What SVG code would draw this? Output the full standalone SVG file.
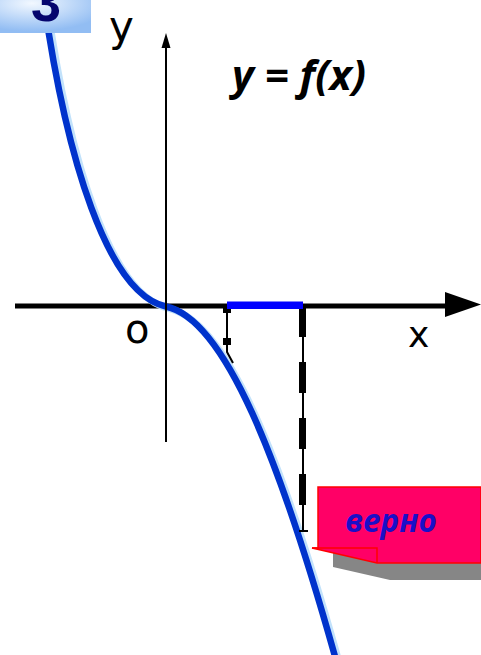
<svg xmlns="http://www.w3.org/2000/svg" width="481" height="655" viewBox="0 0 481 655">
<defs>
<radialGradient id="boxg" cx="0.35" cy="0.1" r="0.85">
<stop offset="0" stop-color="#f2f8ff"/>
<stop offset="1" stop-color="#92bdf3"/>
</radialGradient>
<path id="curve" d="M43,-5 C66,160 108,294 166,306.5 C225,319 280,460 336,660"/>
</defs>
<style>
.lbl{font-family:"DejaVu Sans","Liberation Sans",sans-serif;fill:#000}
.thin{stroke:#000;stroke-width:2;fill:none}
.dash{stroke:#000;stroke-width:7;fill:none}
</style>
<g id="x-axis">
<line x1="15" y1="306" x2="447" y2="306" stroke="#000" stroke-width="5"/>
<polygon points="445,292 481,304.5 445,317" fill="#000"/>
</g>
<g id="graph">
<use href="#curve" fill="none" stroke="#c2e2fb" stroke-width="7" transform="translate(3,2)"/>
<use href="#curve" fill="none" stroke="#0033cc" stroke-width="6.5"/>
</g>
<g id="y-axis">
<line x1="166" y1="46" x2="166" y2="442" stroke="#000" stroke-width="2"/>
<polygon points="166,33 161.5,48 170.5,48" fill="#000"/>
</g>
<g id="connectors">
<polyline class="thin" points="227,305 227,352 233,363"/>
<rect x="223" y="306" width="8" height="7" fill="#000"/>
<rect x="223" y="338" width="8" height="7" fill="#000"/>
<line class="thin" x1="303" y1="305" x2="303" y2="531"/>
<line class="dash" x1="302.5" y1="306" x2="302.5" y2="505" stroke-dasharray="31,25"/>
<line class="thin" x1="299" y1="531" x2="308" y2="531"/>
</g>
<g id="interval">
<rect x="227" y="301.5" width="76" height="7.5" fill="#0000ff"/>
</g>
<g id="labels">
<text class="lbl" x="109" y="41" font-size="42">y</text>
<text class="lbl" x="125" y="343" font-size="40">o</text>
<text class="lbl" x="408" y="347" font-size="36">x</text>
<text x="232" y="90" font-family="'Open Sans','DejaVu Sans',sans-serif" font-weight="bold" font-style="italic" font-size="42" textLength="134" lengthAdjust="spacingAndGlyphs">y = f(x)</text>
</g>
<g id="number-box">
<rect x="0" y="0" width="91" height="33" fill="url(#boxg)"/>
<text x="31" y="21" font-family="'Liberation Sans',Arial,sans-serif" font-weight="bold" font-size="54" fill="#05056e">3</text>
</g>
<g id="callout">
<polygon points="333,553 481,553 481,580 390,580 333,567" fill="#868686"/>
<polygon points="318,487 481,487 481,563 377,563 312,548 318,548" fill="#ff0066" stroke="#ff0000" stroke-width="1.5"/>
<polyline points="312,548 377,548 377,563" fill="none" stroke="#ff0000" stroke-width="1.5"/>
<text x="345" y="532" font-family="'Open Sans','DejaVu Sans',sans-serif" font-weight="bold" font-style="italic" font-size="33" fill="#1a0fc8" textLength="92" lengthAdjust="spacingAndGlyphs">верно</text>
</g>
</svg>
